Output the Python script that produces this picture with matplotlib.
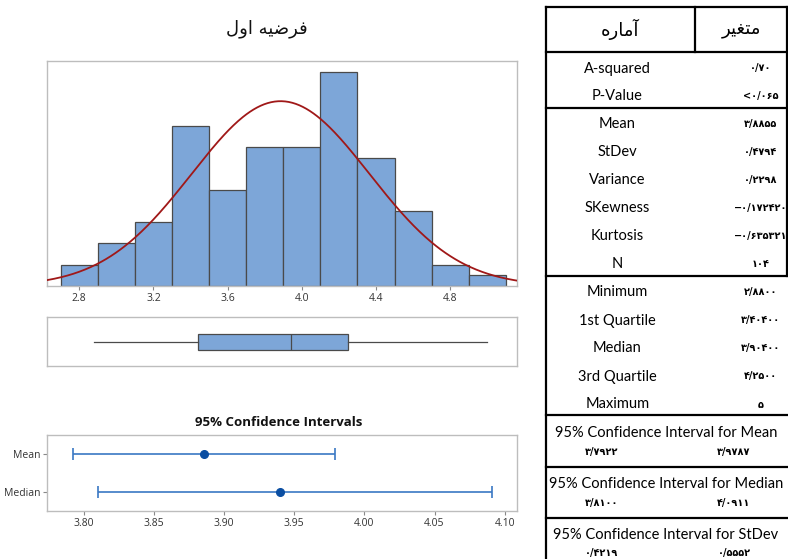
import numpy as np
import matplotlib
matplotlib.use("Agg")
import matplotlib.pyplot as plt
from matplotlib.lines import Line2D

# ---------------- data ----------------
bin_edges = [2.7, 2.9, 3.1, 3.3, 3.5, 3.7, 3.9, 4.1, 4.3, 4.5, 4.7, 4.9, 5.1]
counts = [2, 4, 6, 15, 9, 13, 13, 20, 12, 7, 2, 1]
fit_mean = 3.8855
fit_sd = 0.4794
n_obs = 104
hist_ticks = [2.8, 3.2, 3.6, 4.0, 4.4, 4.8]

box_min = 2.88
box_q1 = 3.44
box_med = 3.94
box_q3 = 4.25
box_max = 5.0

ci_labels = ["Mean", "Median"]
ci_center = [3.8855, 3.94]
ci_low = [3.7922, 3.8100]
ci_high = [3.9787, 4.0911]
ci_ticks = [3.80, 3.85, 3.90, 3.95, 4.00, 4.05, 4.10]

# Persian text (presentation forms in visual order)
title_fa = "\uFEDD\uFEED\uFE8D \uFEEA\uFBFF\uFEBF\uFEAE\uFED3"      # فرضیه اول
head_stat = "\uFEE9\uFEAD\uFE8E\uFEE3\uFE81"                         # آماره
head_var = "\uFEAE\uFBFF\uFED0\uFE98\uFEE3"                          # متغیر

group1_labels = ["A-squared", "P-Value"]
group1_values = ["۰/۷۰", "<۰/۰۶۵"]
group2_labels = ["Mean", "StDev", "Variance", "SKewness", "Kurtosis", "N"]
group2_values = ["۳/۸۸۵۵", "۰/۴۷۹۴", "۰/۲۲۹۸", "−۰/۱۷۲۴۲۰", "−۰/۶۳۵۳۲۱", "۱۰۴"]
group3_labels = ["Minimum", "1st Quartile", "Median", "3rd Quartile", "Maximum"]
group3_values = ["۲/۸۸۰۰", "۳/۴۰۴۰۰", "۳/۹۰۴۰۰", "۴/۲۵۰۰", "۵"]
ci_titles = ["95% Confidence Interval for Mean",
             "95% Confidence Interval for Median",
             "95% Confidence Interval for StDev"]
ci_values = [("۳/۷۹۲۲", "۳/۹۷۸۷"), ("۳/۸۱۰۰", "۴/۰۹۱۱"), ("۰/۴۲۱۹", "۰/۵۵۵۲")]

# ---------------- figure ----------------
W, H = 788, 559
fig = plt.figure(figsize=(W / 100, H / 100), dpi=100)
fig.patch.set_facecolor("white")

def ax_px(l, t, r, b):
    return fig.add_axes([l / W, 1 - b / H, (r - l) / W, (b - t) / H])

BAR = "#7DA6D8"
EDGE = "#4A4A4A"
SPINE = "#BDBDBD"
TICKC = "#333333"
CHART_FONT = ["Open Sans", "DejaVu Sans"]

# Histogram
ax1 = ax_px(47.3, 60.7, 517.3, 286)
widths = np.diff(bin_edges)
ax1.bar(bin_edges[:-1], counts, width=widths, align="edge", color=BAR,
        edgecolor=EDGE, linewidth=0.9, zorder=2)
xs = np.linspace(2.628, 5.162, 400)
binw = widths[0]
ys = n_obs * binw * np.exp(-0.5 * ((xs - fit_mean) / fit_sd) ** 2) / (fit_sd * np.sqrt(2 * np.pi))
ax1.plot(xs, ys, color="#A01818", lw=1.3, zorder=3)
ax1.set_xlim(2.628, 5.162)
ax1.set_ylim(0, 21.1)
ax1.set_yticks([])
ax1.set_xticks(hist_ticks)
ax1.set_xticklabels([f"{t:.1f}" for t in hist_ticks], fontsize=7.5, color=TICKC,
                    family=CHART_FONT)
ax1.tick_params(axis="x", length=3, width=0.8, color="#888888", pad=2)
for s in ax1.spines.values():
    s.set_color(SPINE)
    s.set_linewidth(1.0)

# Boxplot
ax2 = ax_px(47.3, 317.3, 517.3, 366)
stats = [{"med": box_med, "q1": box_q1, "q3": box_q3, "whislo": box_min,
          "whishi": box_max, "fliers": []}]
ax2.bxp(stats, orientation="horizontal", widths=0.33, showcaps=False, patch_artist=True,
        boxprops=dict(facecolor=BAR, edgecolor=EDGE, linewidth=0.9),
        medianprops=dict(color=EDGE, linewidth=0.9),
        whiskerprops=dict(color=EDGE, linewidth=0.9))
ax2.set_xlim(2.628, 5.162)
ax2.set_ylim(0.5, 1.5)
ax2.set_xticks([])
ax2.set_yticks([])
for s in ax2.spines.values():
    s.set_color(SPINE)
    s.set_linewidth(1.0)

# Confidence intervals
ax3 = ax_px(47.3, 435, 517.3, 511)
ypos = [1, 0]
for y, c, lo, hi in zip(ypos, ci_center, ci_low, ci_high):
    ax3.errorbar([c], [y], xerr=[[c - lo], [hi - c]], fmt="o", color="#0B4EA2",
                 ecolor="#3A78C4", elinewidth=1.2, capthick=1.2, capsize=4.5, ms=5.5)
ax3.set_xlim(3.7739, 4.109)
ax3.set_ylim(-0.5, 1.5)
ax3.set_yticks(ypos)
ax3.set_yticklabels(ci_labels, fontsize=7.5, color=TICKC, family=CHART_FONT)
ax3.set_xticks(ci_ticks)
ax3.set_xticklabels([f"{t:.2f}" for t in ci_ticks], fontsize=7.5, color=TICKC,
                    family=CHART_FONT)
ax3.tick_params(length=3, width=0.8, color="#888888", pad=2)
for s in ax3.spines.values():
    s.set_color(SPINE)
    s.set_linewidth(1.0)

fig.text(278.5 / W, 1 - 422.7 / H, "95% Confidence Intervals", ha="center", va="center",
         fontsize=9.5, fontweight="bold", family=CHART_FONT, color="#111111")
fig.text(266.5 / W, 1 - 29 / H, title_fa, ha="center", va="center", fontsize=13,
         family=["DejaVu Sans"], color="#111111")

# ---------------- table ----------------
tax = fig.add_axes([0, 0, 1, 1], zorder=5)
tax.set_xlim(0, W)
tax.set_ylim(H, 0)
tax.axis("off")
tax.patch.set_alpha(0)

LW = 1.6
L, R = 545.7, 788
for y in [6.7, 51.7, 107.7, 276, 415, 466.7, 518.3]:
    tax.add_line(Line2D([L, R], [y, y], color="black", lw=LW))
tax.add_line(Line2D([L, L], [6.7, H], color="black", lw=LW))
tax.add_line(Line2D([695, 695], [6.7, 51.7], color="black", lw=LW))
tax.add_line(Line2D([787, 787], [6.7, 276], color="black", lw=LW))

tax.text(620, 29, head_stat, ha="center", va="center", fontsize=13, family=["DejaVu Sans"])
tax.text(741, 29, head_var, ha="center", va="center", fontsize=13, family=["DejaVu Sans"])

TFONT = ["Lato", "DejaVu Sans"]
VFONT = ["DejaVu Sans"]
LX, VX = 617.5, 761
row_h = 28.0

def rows(labels, values, y0):
    for i, (lab, val) in enumerate(zip(labels, values)):
        y = y0 + i * row_h
        tax.text(LX, y, lab, ha="center", va="center", fontsize=10.5, family=TFONT)
        tax.text(VX, y, val, ha="center", va="center", fontsize=7, family=VFONT,
                 fontweight="bold")

rows(group1_labels, group1_values, 68.5)
rows(group2_labels, group2_values, 124)
rows(group3_labels, group3_values, 292.5)

for (t, (a, b)), ty, vy in zip(zip(ci_titles, ci_values), [433.3, 484, 535], [452.3, 503.3, 553.3]):
    tax.text(666, ty, t, ha="center", va="center", fontsize=10.5, family=TFONT)
    tax.text(601.7, vy, a, ha="center", va="center", fontsize=7, family=VFONT, fontweight="bold")
    tax.text(734, vy, b, ha="center", va="center", fontsize=7, family=VFONT, fontweight="bold")

fig.savefig("out.png", dpi=100, facecolor="white")
